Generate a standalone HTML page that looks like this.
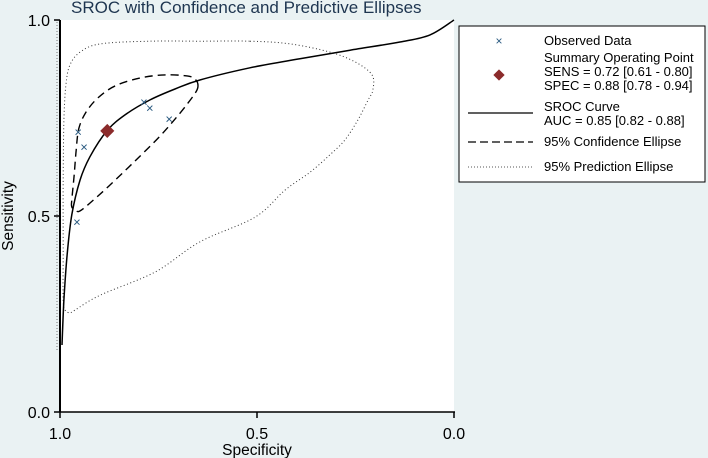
<!DOCTYPE html>
<html><head><meta charset="utf-8"><style>
html,body{margin:0;padding:0;background:#eaf2f3;}
svg{display:block;font-family:"Liberation Sans",Arial,sans-serif;}
</style></head><body>
<svg id="chart" width="708" height="458" viewBox="0 0 708 458">
<rect x="0" y="0" width="708" height="458" fill="#eaf2f3"/>
<rect x="60" y="20" width="394" height="392" fill="#ffffff"/>
<text x="71" y="13" font-size="17" fill="#1e3550">SROC with Confidence and Predictive Ellipses</text>
<g id="series"></g>
<line x1="60" y1="20" x2="60" y2="412" stroke="#000" stroke-width="2"/>
<line x1="57" y1="22" x2="57" y2="350" stroke="#777" stroke-width="1" stroke-dasharray="1 2"/>
<line x1="60" y1="412" x2="455" y2="412" stroke="#000" stroke-width="1.5"/>
<g id="ticks"></g>
<text x="13" y="216" font-size="15.5" text-anchor="middle" transform="rotate(-90 13 216)" fill="#000">Sensitivity</text>
<text x="257" y="455" font-size="15.5" text-anchor="middle" fill="#000">Specificity</text>
<g>
<rect x="459" y="26" width="246" height="156" fill="#fff" stroke="#000" stroke-width="1"/>
<text x="499" y="45" font-size="12" fill="#2a5a80" text-anchor="middle">×</text>
<text x="544" y="45" font-size="13">Observed Data</text>
<rect x="495" y="71" width="8" height="8" fill="#8b2b2b" transform="rotate(45 499 75)"/>
<text x="544" y="62" font-size="13">Summary Operating Point</text>
<text x="544" y="76" font-size="13">SENS = 0.72 [0.61 - 0.80]</text>
<text x="544" y="90" font-size="13">SPEC = 0.88 [0.78 - 0.94]</text>
<line x1="468" y1="113" x2="533" y2="113" stroke="#000" stroke-width="1.3"/>
<text x="544" y="111" font-size="13">SROC Curve</text>
<text x="544" y="125" font-size="13">AUC = 0.85 [0.82 - 0.88]</text>
<line x1="468" y1="142" x2="533" y2="142" stroke="#000" stroke-width="1.3" stroke-dasharray="8 4"/>
<text x="544" y="146" font-size="13">95% Confidence Ellipse</text>
<line x1="468" y1="167" x2="533" y2="167" stroke="#555" stroke-width="1" stroke-dasharray="1 2"/>
<text x="544" y="171" font-size="13">95% Prediction Ellipse</text>
</g>
</svg>
<script>
const xTicks = [1.0, 0.5, 0.0];
const yTicks = [0.0, 0.5, 1.0];
const tickLabels = ["1.0", "0.5", "0.0"];
const yTickLabels = ["0.0", "0.5", "1.0"];
const obsSpec = [0.954, 0.939, 0.957, 0.787, 0.772, 0.723];
const obsSens = [0.714, 0.676, 0.485, 0.791, 0.776, 0.747];
const summarySpec = [0.88];
const summarySens = [0.717];
const srocFpr = [0.005,0.010,0.018,0.030,0.051,0.076,0.119,0.165,0.228,0.292,0.355,0.482,0.609,0.736,0.863,0.939,1.0];
const srocSens = [0.171,0.286,0.40,0.503,0.592,0.651,0.717,0.758,0.796,0.824,0.847,0.878,0.901,0.923,0.944,0.962,1.0];
const confSpec = [0.650,0.655,0.675,0.734,0.797,0.860,0.904,0.934,0.952,0.959,0.964,0.970,0.970,0.959,0.949,0.924,0.873,0.810,0.746,0.695,0.660];
const confSens = [0.829,0.847,0.857,0.860,0.852,0.832,0.801,0.765,0.724,0.668,0.605,0.541,0.523,0.513,0.513,0.533,0.579,0.640,0.704,0.763,0.809];
const predSpec = [0.518,0.416,0.315,0.251,0.208,0.206,0.218,0.244,0.277,0.315,0.365,0.429,0.505,0.645,0.759,0.898,0.962,0.975,0.987,0.992,0.992,0.992,0.990,0.985,0.975,0.949,0.898,0.772,0.645];
const predSens = [0.946,0.939,0.918,0.893,0.860,0.821,0.796,0.745,0.694,0.656,0.612,0.566,0.497,0.434,0.357,0.298,0.260,0.253,0.260,0.286,0.413,0.592,0.745,0.834,0.885,0.918,0.939,0.946,0.946];

const NS = "http://www.w3.org/2000/svg";
function xs(spec){ return 60 + (1 - spec) * 394; }
function ys(sens){ return 412 - sens * 392; }
const g = document.getElementById('series');
const tk = document.getElementById('ticks');

function path(specs, sens, close){
  const p = specs.map((s,i)=>[xs(s), ys(sens[i])]);
  const n = p.length;
  const get = i => close ? p[(i+n)%n] : p[Math.max(0, Math.min(n-1, i))];
  let d = 'M' + p[0][0].toFixed(1) + ' ' + p[0][1].toFixed(1);
  const segs = close ? n : n-1;
  for (let i=0;i<segs;i++){
    const p0=get(i-1), p1=get(i), p2=get(i+1), p3=get(i+2);
    const c1=[p1[0]+(p2[0]-p0[0])/6, p1[1]+(p2[1]-p0[1])/6];
    const c2=[p2[0]-(p3[0]-p1[0])/6, p2[1]-(p3[1]-p1[1])/6];
    d += ' C'+c1[0].toFixed(1)+' '+c1[1].toFixed(1)+' '+c2[0].toFixed(1)+' '+c2[1].toFixed(1)+' '+p2[0].toFixed(1)+' '+p2[1].toFixed(1);
  }
  return close ? d + ' Z' : d;
}
const pe = document.createElementNS(NS,'path');
pe.setAttribute('d', path(predSpec, predSens, true));
pe.setAttribute('fill','none'); pe.setAttribute('stroke','#333'); pe.setAttribute('stroke-width','1'); pe.setAttribute('stroke-dasharray','1 2.5');


g.appendChild(pe);
const ce = document.createElementNS(NS,'path');
ce.setAttribute('d', path(confSpec, confSens, true));
ce.setAttribute('fill','none'); ce.setAttribute('stroke','#000'); ce.setAttribute('stroke-width','1.4'); ce.setAttribute('stroke-dasharray','8 5');


g.appendChild(ce);
const sc = document.createElementNS(NS,'path');
sc.setAttribute('d', path(srocFpr.map(f=>1-f), srocSens, false));
sc.setAttribute('fill','none'); sc.setAttribute('stroke','#000'); sc.setAttribute('stroke-width','1.5');


g.appendChild(sc);
obsSpec.forEach((s,i)=>{
  const t = document.createElementNS(NS,'text');
  t.setAttribute('x', xs(s)); t.setAttribute('y', ys(obsSens[i]) + 4.5);
  t.setAttribute('font-size','13'); t.setAttribute('text-anchor','middle'); t.setAttribute('fill','#2a5a80');
  t.textContent = '×';
  
  
  g.appendChild(t);
});
summarySpec.forEach((s,i)=>{
  const r = document.createElementNS(NS,'rect');
  const cx = xs(s), cy = ys(summarySens[i]);
  r.setAttribute('x', cx-5); r.setAttribute('y', cy-5); r.setAttribute('width',10); r.setAttribute('height',10);
  r.setAttribute('fill','#8b2b2b'); r.setAttribute('transform','rotate(45 '+cx+' '+cy+')');
  
  
  g.appendChild(r);
});
xTicks.forEach((v,i)=>{
  const l = document.createElementNS(NS,'line');
  l.setAttribute('x1', xs(v)); l.setAttribute('x2', xs(v)); l.setAttribute('y1',412); l.setAttribute('y2',418);
  l.setAttribute('stroke','#000'); l.setAttribute('stroke-width','1.5');
  
  
  tk.appendChild(l);
  const t = document.createElementNS(NS,'text');
  t.setAttribute('x', xs(v)); t.setAttribute('y', 439); t.setAttribute('font-size','16'); t.setAttribute('text-anchor','middle');
  t.textContent = tickLabels[i];
  
  
  tk.appendChild(t);
});
yTicks.forEach((v,i)=>{
  const l = document.createElementNS(NS,'line');
  l.setAttribute('x1', 54); l.setAttribute('x2', 60); l.setAttribute('y1', ys(v)); l.setAttribute('y2', ys(v));
  l.setAttribute('stroke','#000'); l.setAttribute('stroke-width','1.5');
  
  
  tk.appendChild(l);
  const t = document.createElementNS(NS,'text');
  t.setAttribute('x', 50); t.setAttribute('y', ys(v)+6); t.setAttribute('font-size','16'); t.setAttribute('text-anchor','end');
  t.textContent = yTickLabels[i];
  
  
  tk.appendChild(t);
});
</script>
</body></html>
